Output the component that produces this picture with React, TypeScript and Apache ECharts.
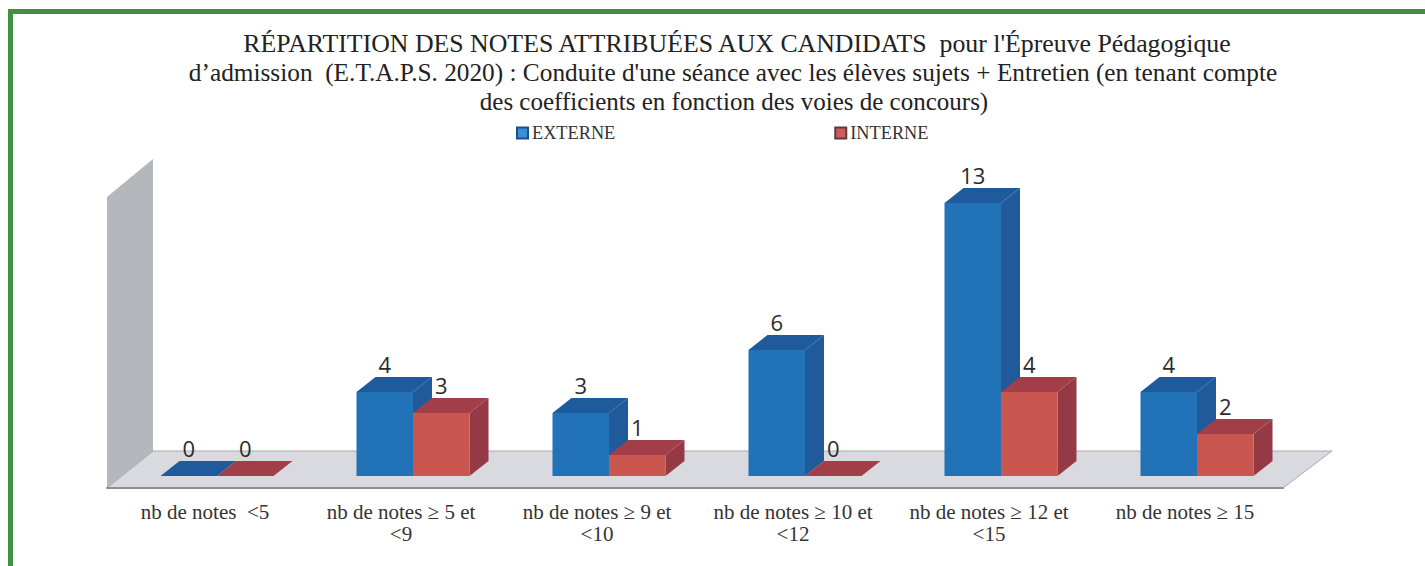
import React, { useEffect, useRef } from "react";
import * as echarts from "echarts";

const categories = [
  "nb de notes  <5",
  "nb de notes ≥ 5 et\n<9",
  "nb de notes ≥ 9 et\n<10",
  "nb de notes ≥ 10 et\n<12",
  "nb de notes ≥ 12 et\n<15",
  "nb de notes ≥ 15",
];
const externe = [0, 4, 3, 6, 13, 4];
const interne = [0, 3, 1, 0, 4, 2];
const titleLines = [
  "RÉPARTITION DES NOTES ATTRIBUÉES AUX CANDIDATS  pour l'Épreuve Pédagogique",
  "d’admission  (E.T.A.P.S. 2020) : Conduite d'une séance avec les élèves sujets + Entretien (en tenant compte",
  "des coefficients en fonction des voies de concours)",
];
const titleCenters = [737, 733, 734];
const titleTops = [30, 59, 89];
const titleSizes = [25.8, 25.3, 25];

const SERIF = "'Liberation Serif', serif";
const BAR_W = 56.5;
const DX = 19;
const DY = 15;
const LIFT = 12;

function bar3d(seriesIndex: number, front: string, top: string, side: string) {
  return (params: any, api: any) => {
    const v = api.value(1);
    const base = api.coord([api.value(0), 0]);
    const head = api.coord([api.value(0), v]);
    const off = seriesIndex === 0 ? -BAR_W : 0;
    const x0 = base[0] + LIFT + off;
    const x1 = x0 + BAR_W;
    const yb = base[1] - LIFT;
    const yt = head[1] - LIFT;
    const children: any[] = [];
    if (v > 0) {
      children.push({
        type: "polygon",
        shape: { points: [[x1, yb], [x1 + DX, yb - DY], [x1 + DX, yt - DY], [x1, yt]] },
        style: { fill: side },
      });
      children.push({
        type: "rect",
        shape: { x: x0, y: yt, width: BAR_W, height: yb - yt },
        style: { fill: front },
      });
    }
    children.push({
      type: "polygon",
      shape: { points: [[x0, yt], [x0 + DX, yt - DY], [x1 + DX, yt - DY], [x1, yt]] },
      style: { fill: top },
    });
    children.push({
      type: "text",
      style: {
        x: x0 + BAR_W / 2,
        y: yt - 28,
        text: String(v),
        fill: "#2b2b2b",
        font: "22px 'Open Sans', sans-serif",
        align: "center",
        verticalAlign: "middle",
      },
    });
    return { type: "group", children };
  };
}

export default function App() {
  const ref = useRef<HTMLDivElement>(null);
  useEffect(() => {
    document.body.style.margin = "0";
    const chart = echarts.init(ref.current!, undefined, { renderer: "svg" });
    chart.setOption({
      animation: false,
      backgroundColor: "#ffffff",
      title: titleLines.map((text, i) => ({
        text,
        left: titleCenters[i],
        top: titleTops[i],
        textAlign: "center",
        padding: 0,
        textStyle: { fontFamily: SERIF, fontSize: titleSizes[i], fontWeight: "normal", color: "#222222" },
      })),
      legend: {
        left: 516,
        top: 124,
        padding: 0,
        itemGap: 219,
        itemWidth: 11,
        itemHeight: 11,
        icon: "rect",
        textStyle: { fontFamily: SERIF, fontSize: 18.3, color: "#333333", padding: [0, 0, 0, -1] },
        data: [
          { name: "EXTERNE", itemStyle: { color: "#3c8fd0", borderColor: "#1d4f8f", borderWidth: 2 } },
          { name: "INTERNE", itemStyle: { color: "#cf5c58", borderColor: "#5b3a40", borderWidth: 2 } },
        ],
      },
      grid: { left: 107, width: 1176, top: 194, height: 294 },
      xAxis: {
        type: "category",
        data: categories,
        axisLine: { lineStyle: { color: "#8d8d94", width: 2 } },
        axisTick: { show: false },
        axisLabel: {
          fontFamily: SERIF,
          fontSize: 21,
          color: "#333333",
          margin: 13,
          lineHeight: 22,
          interval: 0,
        },
      },
      yAxis: { type: "value", min: 0, max: 14, interval: 2, show: false },
      graphic: [
        {
          type: "polygon",
          z: -2,
          shape: { points: [[107, 197], [153, 159], [153, 452], [107, 488]] },
          style: { fill: "#b4b7bc" },
        },
        {
          type: "polygon",
          z: -1,
          shape: { points: [[107, 488], [153, 451], [1332, 451], [1283, 488]] },
          style: { fill: "#d9dae0", stroke: "#a9abb0", lineWidth: 1 },
        },
        { type: "rect", z: 10, shape: { x: 8, y: 9, width: 1417, height: 5 }, style: { fill: "#3f9140" } },
        { type: "rect", z: 10, shape: { x: 8, y: 9, width: 5, height: 557 }, style: { fill: "#3f9140" } },
      ],
      series: [
        {
          name: "EXTERNE",
          type: "custom",
          clip: false,
          itemStyle: { color: "#2272b8" },
          data: externe.map((v, i) => [i, v]),
          encode: { x: 0, y: 1 },
          renderItem: bar3d(0, "#2272b8", "#1f5a9c", "#215a9b"),
        },
        {
          name: "INTERNE",
          type: "custom",
          clip: false,
          itemStyle: { color: "#c9574f" },
          data: interne.map((v, i) => [i, v]),
          encode: { x: 0, y: 1 },
          renderItem: bar3d(1, "#c9574f", "#a23e47", "#953a45"),
        },
      ],
    });
    return () => chart.dispose();
  }, []);
  return <div ref={ref} style={{ width: 1425, height: 566 }} />;
}
